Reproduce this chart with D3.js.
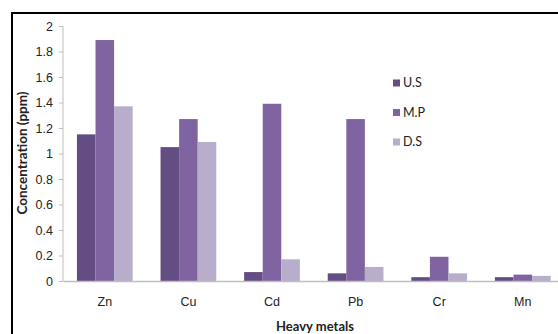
<!DOCTYPE html>
<html><head><meta charset="utf-8">
<script src="https://cdn.jsdelivr.net/npm/d3@7"></script>
<style>body{margin:0;background:#fff;}svg{display:block;font-family:Lato,"Open Sans",sans-serif;}</style>
</head><body><svg id="c" width="558" height="334"></svg>
<script>
const categories = ["Zn","Cu","Cd","Pb","Cr","Mn"];
const seriesNames = ["U.S","M.P","D.S"];
const usValues = [1.15,1.05,0.07,0.06,0.03,0.03];
const mpValues = [1.89,1.27,1.39,1.27,0.19,0.05];
const dsValues = [1.37,1.09,0.17,0.11,0.06,0.04];
const yTicks = [0,0.2,0.4,0.6,0.8,1,1.2,1.4,1.6,1.8,2];
const colors = ["#644D82","#8064A2","#B8ADCA"];
const seriesValues = [usValues, mpValues, dsValues];

const svg = d3.select("#c");
const x = d3.scaleBand().domain(categories).range([63, 564.6]).paddingInner(0).paddingOuter(0);
const y = d3.scaleLinear().domain([0,2]).range([281,26]);
const bw = x.bandwidth()/4.5;
const x1 = d3.scaleBand().domain(seriesNames).range([0.75*bw, 3.75*bw]);

// frame
svg.append("path").attr("d","M12,340V13H570").attr("fill","none").attr("stroke","#000").attr("stroke-width",2);

// y axis
const ya = svg.append("g").attr("transform","translate(63,0)").call(d3.axisLeft(y).tickValues(yTicks).tickSize(4).tickPadding(6).tickFormat(d=>d3.format("")(d)));
ya.select(".domain").attr("stroke","#bfbfbf").attr("d","M0,26H0V281");
ya.selectAll(".tick line").attr("stroke","#bfbfbf");
ya.selectAll("text").attr("font-size","12.5px").attr("fill","#222").attr("dy","0.35em");

// bars
categories.forEach((c,i)=>{
  seriesNames.forEach((s,j)=>{
    const v = seriesValues[j][i];
    svg.append("rect").attr("x",x(c)+x1(s)).attr("width",x1.bandwidth())
      .attr("y",y(v)).attr("height",y(0)-y(v)).attr("fill",colors[j]);
  });
});

// x axis
const xa = svg.append("g").attr("transform","translate(0,281)").call(d3.axisBottom(x).tickSize(0).tickPadding(16));
xa.select(".domain").attr("stroke","#bfbfbf").attr("stroke-width",1.5);
xa.selectAll("text").attr("font-size","12.5px").attr("fill","#222");

// axis titles
svg.append("text").attr("transform","translate(27,153) rotate(-90)").attr("text-anchor","middle")
  .attr("font-size","13.5px").attr("font-weight","bold").attr("fill","#222").text("Concentration (ppm)");
svg.append("text").attr("x",315).attr("y",331).attr("text-anchor","middle")
  .attr("font-size","13px").attr("font-weight","bold").attr("fill","#222").text("Heavy metals");

// legend
const lg = svg.append("g");
seriesNames.forEach((s,j)=>{
  const yy = 83 + j*29.5;
  lg.append("rect").attr("x",393).attr("y",yy-3.5).attr("width",7).attr("height",7).attr("fill",colors[j]);
  lg.append("text").attr("x",403).attr("y",yy).attr("dy","0.35em").attr("font-size","12.5px").attr("fill","#222").text(s);
});
</script></body></html>
